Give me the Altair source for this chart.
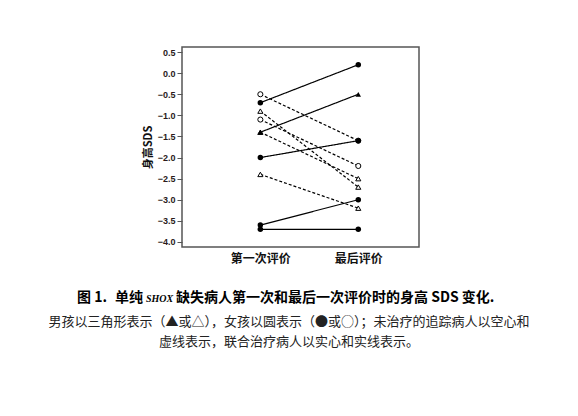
import altair as alt
import pandas as pd

# ---- data ----
subject = ["A", "B", "C", "D", "E", "F", "G", "H", "I", "J"]
sex = ["女", "男", "女", "女", "女", "女", "男", "女", "男", "男"]
group = ["联合治疗", "联合治疗", "联合治疗", "联合治疗", "联合治疗",
         "未治疗", "未治疗", "未治疗", "未治疗", "未治疗"]
first_sds = [-0.7, -1.4, -2.0, -3.6, -3.7, -0.5, -0.9, -1.1, -1.4, -2.4]
last_sds = [0.2, -0.5, -1.6, -3.0, -3.7, -1.6, -2.7, -2.2, -2.5, -3.2]
visit_labels = ["第一次评价", "最后评价"]
y_ticks = [-4.0, -3.5, -3.0, -2.5, -2.0, -1.5, -1.0, -0.5, 0.0, 0.5]

caption1a = "图 1."
caption1b = "单纯"
caption1c = "SHOX"
caption1d = "缺失病人第一次和最后一次评价时的身高 SDS 变化."
caption2 = "男孩以三角形表示（▲或△），女孩以圆表示（●或○）；未治疗的追踪病人以空心和"
caption3 = "虚线表示，联合治疗病人以实心和实线表示。"

rows = []
for s, sx, g, a, b in zip(subject, sex, group, first_sds, last_sds):
    rows.append({"id": s, "sex": sx, "group": g, "visit": 1, "sds": a})
    rows.append({"id": s, "sex": sx, "group": g, "visit": 2, "sds": b})
df = pd.DataFrame(rows)

FONT = "Liberation Sans"
CJK = "Noto Sans CJK SC"

x_enc = alt.X(
    "visit:Q",
    scale=alt.Scale(domain=[0.2, 2.62], nice=False, zero=False),
    axis=alt.Axis(
        values=[1, 2],
        labelExpr="datum.value == 1 ? '" + visit_labels[0] + "' : '" + visit_labels[1] + "'",
        title=None, ticks=False, domain=False, grid=False,
        labelFont=CJK, labelFontSize=12, labelFontWeight="bold",
        labelColor="#111", labelPadding=6,
    ),
)
y_enc = alt.Y(
    "sds:Q",
    scale=alt.Scale(domain=[-4.12, 0.62], nice=False, zero=False),
    axis=alt.Axis(
        values=y_ticks, format=".1f", title="身高SDS",
        titleFont=CJK, titleFontSize=11, titleFontWeight="bold", titleColor="#111",
        titlePadding=4,
        labelFont=FONT, labelFontSize=9, labelFontWeight="bold", labelColor="#2a1a1a",
        labelPadding=2, tickSize=5, tickColor="#555", domain=False, grid=False,
    ),
)

base = alt.Chart(df)

lines = base.mark_line(color="black", strokeWidth=1.2).encode(
    x=x_enc, y=y_enc, detail="id:N",
    strokeDash=alt.StrokeDash(
        "group:N",
        scale=alt.Scale(domain=["联合治疗", "未治疗"], range=[[1, 0], [3, 2]]),
        legend=None,
    ),
)

shape_scale = alt.Scale(domain=["女", "男"], range=["circle", "triangle-up"])

open_pts = base.transform_filter(alt.datum.group == "未治疗").mark_point(
    filled=True, fill="white", stroke="black", strokeWidth=1, size=26, opacity=1
).encode(x=x_enc, y=y_enc, shape=alt.Shape("sex:N", scale=shape_scale, legend=None))

filled_pts = base.transform_filter(alt.datum.group == "联合治疗").mark_point(
    filled=True, color="black", size=30, opacity=1
).encode(x=x_enc, y=y_enc, shape=alt.Shape("sex:N", scale=shape_scale, legend=None))

cap_df = pd.DataFrame({"k": [0]})
cap = alt.Chart(cap_df)
t1a = cap.mark_text(text=caption1a, font=CJK, fontSize=14, fontWeight="bold",
                    align="left", baseline="middle", color="black").encode(
    x=alt.value(-105), y=alt.value(251))
t1b = cap.mark_text(text=caption1b, font=CJK, fontSize=14, fontWeight="bold",
                    align="left", baseline="middle", color="black").encode(
    x=alt.value(-67), y=alt.value(251))
t1c = cap.mark_text(text=caption1c, font="Liberation Serif", fontSize=10, fontWeight="bold",
                    fontStyle="italic", align="left", baseline="middle", color="black").encode(
    x=alt.value(-36), y=alt.value(252))
t1d = cap.mark_text(text=caption1d, font=CJK, fontSize=14, fontWeight="bold",
                    align="left", baseline="middle", color="black").encode(
    x=alt.value(-6), y=alt.value(251))
t2 = cap.mark_text(text=caption2, font=CJK, fontSize=13, align="center",
                   baseline="middle", color="#222").encode(
    x=alt.value(107), y=alt.value(275))
t3 = cap.mark_text(text=caption3, font=CJK, fontSize=13, align="center",
                   baseline="middle", color="#222").encode(
    x=alt.value(107), y=alt.value(295))

chart = alt.layer(lines, open_pts, filled_pts, t1a, t1b, t1c, t1d, t2, t3).properties(
    width=237, height=200,
    autosize=alt.AutoSizeParams(type="none"),
    padding={"left": 174, "top": 39, "right": 140, "bottom": 120},
    background="white",
).configure_view(stroke="#555", strokeWidth=1.5)

chart.save("out.html", embed_options={"renderer": "svg", "actions": False})
